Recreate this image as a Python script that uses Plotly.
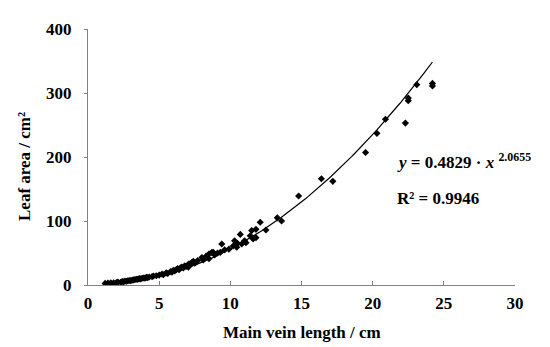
import numpy as np
import plotly.graph_objects as go

# Measured leaves: main vein length (cm) and leaf area (cm^2)
vein_length = [1.2, 1.4, 1.6, 1.8, 2.0, 2.1, 2.3, 2.4, 2.5, 2.6, 2.7, 2.8, 2.9, 3.0, 3.1, 3.2,
               3.3, 3.4, 3.5, 3.6, 3.7, 3.8, 3.9, 4.0, 4.1, 4.2, 4.3, 4.5, 4.6, 4.8, 5.0,
               5.2, 5.3, 5.5, 5.6, 5.8, 5.9, 6.0, 6.1, 6.2, 6.3, 6.4, 6.5, 6.6, 6.7, 6.8,
               6.9, 7.0, 7.05, 7.1, 7.2, 7.3, 7.4, 7.5, 7.7, 8.0, 8.1, 8.3, 8.5, 8.5, 8.7,
               8.8, 8.9, 9.1, 9.3, 9.4, 9.6, 9.9,
               10.2, 10.3, 10.45, 10.5, 10.7, 10.8, 11.0, 11.1, 11.4, 11.5, 11.6, 11.8,
               11.8, 12.1, 12.5, 13.3, 13.6,
               14.8, 16.4, 17.2, 19.5, 20.3, 20.9, 22.3, 22.5, 22.5, 23.1, 24.2, 24.2]
leaf_area = [2.5, 3.0, 3.2, 3.5, 3.8, 4.5, 4.2, 5.5, 5.0, 6.0, 5.8, 6.5, 7.0, 6.8, 7.5, 8.0,
             8.5, 9.0, 8.8, 10.0, 9.5, 10.5, 11.0, 10.8, 12.0, 11.5, 12.5, 13.0, 14.0, 14.5, 15.5,
             17.0, 16.0, 19.0, 18.0, 21.0, 20.0, 23.0, 22.0, 24.0, 25.5, 24.0, 27.0, 28.0, 26.5, 30.0,
             29.0, 31.0, 28.0, 33.0, 32.0, 35.0, 37.0, 34.0, 38.0, 43.0, 39.0, 45.0, 41.0, 48.5, 51.0,
             51.0, 47.0, 50.0, 51.0, 64.0, 55.0, 56.0,
             61.0, 69.0, 59.0, 65.0, 79.0, 64.0, 69.0, 66.0, 77.0, 85.0, 72.0, 87.0,
             74.0, 98.0, 86.0, 105.0, 100.0,
             139.0, 166.0, 162.0, 207.0, 237.0, 259.0, 253.0, 288.0, 292.0, 313.0, 311.0, 315.0]

# Power trendline parameters
coef_a = 0.4829
coef_b = 2.0655
x_ticks = [0, 5, 10, 15, 20, 25, 30]
y_ticks = [0, 100, 200, 300, 400]

font_family = "Liberation Serif"
fs = 17

xf = np.linspace(min(vein_length), max(vein_length), 200)
yf = coef_a * xf ** coef_b

fig = go.Figure()
fig.add_trace(go.Scatter(x=xf, y=yf, mode="lines",
                         line=dict(color="black", width=1.2), hoverinfo="skip"))
fig.add_trace(go.Scatter(x=vein_length, y=leaf_area, mode="markers",
                         marker=dict(symbol="diamond", size=5.5, color="black")))

axis_color = "#808080"
# page body has an 8px default margin; figure sized to fill the rest of the window
fig.update_layout(
    width=542, height=339,
    margin=dict(l=80, r=35, t=16, b=62),
    paper_bgcolor="white", plot_bgcolor="white",
    showlegend=False,
    font=dict(family=font_family, size=fs, color="black"),
    xaxis=dict(range=[0, 30], tickvals=x_ticks, ticktext=[f"<b>{v}</b>" for v in x_ticks],
               showgrid=False, zeroline=False, showline=True, linecolor=axis_color,
               linewidth=1, ticks="inside", ticklen=4, tickcolor=axis_color,
               ticklabelstandoff=3),
    yaxis=dict(range=[0, 400], tickvals=y_ticks, ticktext=[f"<b>{v}</b>" for v in y_ticks],
               showgrid=False, zeroline=False, showline=True, linecolor=axis_color,
               linewidth=1, ticks="outside", ticklen=3, tickcolor=axis_color,
               ticklabelstandoff=9),
)

fig.add_annotation(text="<b>Main vein length / cm</b>", xref="paper", yref="paper",
                   x=0.5, y=0, yshift=-47, xanchor="center", yanchor="middle",
                   showarrow=False, font=dict(size=fs))
fig.add_annotation(text="<b>Leaf area / cm²</b>", xref="paper", yref="paper",
                   x=0, y=0.5, xshift=-64, yshift=-10, xanchor="center", yanchor="middle",
                   textangle=-90, showarrow=False, font=dict(size=fs))
fig.add_annotation(text="<b><i>y</i> = 0.4829 · <i>x</i> <sup>2.0655</sup></b>",
                   x=21.6, y=193, xref="x", yref="y", xanchor="left",
                   showarrow=False, font=dict(size=fs))
fig.add_annotation(text="<b>R² = 0.9946</b>", x=21.6, y=135, xref="x", yref="y",
                   xanchor="left", showarrow=False, font=dict(size=fs))

fig.write_html("out.html")
